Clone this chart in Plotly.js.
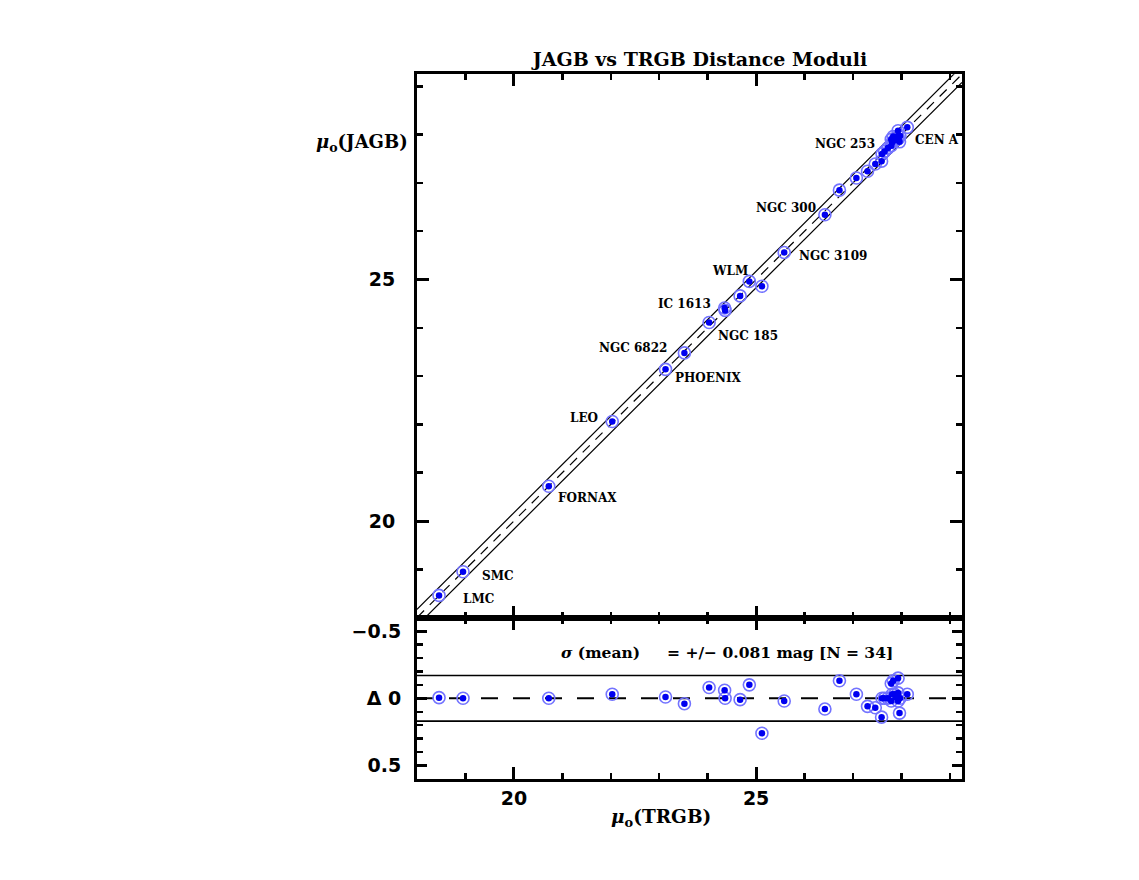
<!DOCTYPE html>
<html>
<head>
<meta charset="utf-8">
<script src="https://cdn.plot.ly/plotly-3.0.1.min.js"></script>
<style>html,body{margin:0;padding:0;background:#fff;}#chart{width:1139px;height:880px;}</style>
</head>
<body>
<div id="chart"></div>
<script>
// ---- data ----
const trgb = [18.455, 18.95, 20.72, 22.03, 23.13, 23.52, 24.03, 24.35, 24.36, 24.67,
              24.86, 25.12, 25.58, 26.42, 26.72, 27.07, 27.30, 27.46, 27.59, 27.60,
              27.65, 27.79, 27.83, 27.93, 27.81, 27.86, 27.93, 27.79, 27.93, 27.96,
              28.12, 27.72, 27.88, 27.97];
const jagb = [18.46, 18.95, 20.72, 22.06, 23.14, 23.48, 24.11, 24.41, 24.36, 24.66,
              24.96, 24.86, 25.56, 26.34, 26.85, 27.10, 27.24, 27.39, 27.45, 27.60,
              27.65, 27.90, 27.96, 28.08, 27.84, 27.89, 27.97, 27.77, 27.91, 27.85,
              28.15, 27.72, 27.89, 27.97];
const delta = trgb.map((t, i) => t - jagb[i]);

const labelNames = ['NGC 253', 'CEN A', 'NGC 300', 'NGC 3109', 'WLM', 'IC 1613', 'NGC 185',
                    'NGC 6822', 'PHOENIX', 'LEO', 'FORNAX', 'SMC', 'LMC'];
const labelX = [26.84, 28.73, 25.61, 26.58, 24.47, 23.52, 24.84, 22.46, 24.01, 21.45, 21.51, 19.67, 19.26];
const labelY = [27.81, 27.89, 26.48, 25.49, 25.18, 24.49, 23.83, 23.58, 22.96, 22.13, 20.48, 18.86, 18.39];

const axisRange = [18, 29.25];
const band = 0.17;
const sigmaText = '<i>σ</i> (mean)&nbsp;&nbsp;&nbsp;&nbsp; = +/− 0.081 mag [N = 34]';

// ---- traces ----
const lineX = axisRange;
const traces = [];
// top panel reference lines
traces.push({x: lineX, y: lineX.map(v => v + band), xaxis: 'x2', yaxis: 'y2', mode: 'lines',
  line: {color: '#000', width: 1.2}, hoverinfo: 'skip', showlegend: false});
traces.push({x: lineX, y: lineX.map(v => v - band), xaxis: 'x2', yaxis: 'y2', mode: 'lines',
  line: {color: '#000', width: 1.2}, hoverinfo: 'skip', showlegend: false});
traces.push({x: lineX, y: lineX, xaxis: 'x2', yaxis: 'y2', mode: 'lines',
  line: {color: '#000', width: 1.2, dash: '10px,8px'}, hoverinfo: 'skip', showlegend: false});
// bottom panel reference lines
traces.push({x: lineX, y: [band, band], xaxis: 'x', yaxis: 'y', mode: 'lines',
  line: {color: '#000', width: 1.6}, hoverinfo: 'skip', showlegend: false});
traces.push({x: lineX, y: [-band, -band], xaxis: 'x', yaxis: 'y', mode: 'lines',
  line: {color: '#000', width: 1.6}, hoverinfo: 'skip', showlegend: false});
traces.push({x: lineX, y: [0, 0], xaxis: 'x', yaxis: 'y', mode: 'lines',
  line: {color: '#000', width: 2, dash: '17px,15px'}, hoverinfo: 'skip', showlegend: false});
// points: ring + dot
function pts(xs, ys, xa, ya) {
  traces.push({x: xs, y: ys, xaxis: xa, yaxis: ya, mode: 'markers', showlegend: false,
    marker: {symbol: 'circle-open', size: 12, color: '#7373ff', line: {color: '#7373ff', width: 1.6}}});
  traces.push({x: xs, y: ys, xaxis: xa, yaxis: ya, mode: 'markers', showlegend: false,
    marker: {symbol: 'circle', size: 6.5, color: '#0000f0', line: {width: 0}}});
}
pts(trgb, jagb, 'x2', 'y2');
pts(trgb, delta, 'x', 'y');

// ---- layout ----
const W = 1139, H = 880;
const xDom = [417 / W, 962 / W];
const topDom = [1 - 617.6 / H, 1 - 74.2 / H];
const botDom = [1 - 779 / H, 1 - 617.6 / H];

const tickFont = {family: 'DejaVu Sans, sans-serif', size: 19, color: '#000', weight: 'bold'};
const serifBold = {family: 'DejaVu Serif, serif', color: '#000', weight: 'bold'};

function minorT(dt) {
  return {ticks: 'inside', ticklen: 6, tickwidth: 2.5, tickcolor: '#000', dtick: dt, tick0: 0, showgrid: false};
}
function axisBase(extra) {
  return Object.assign({
    showline: true, linewidth: 3, linecolor: '#000', mirror: 'allticks',
    ticks: 'inside', ticklen: 12, tickwidth: 3, tickcolor: '#000',
    showgrid: false, zeroline: false, automargin: false, tickfont: tickFont
  }, extra);
}

const annotations = labelNames.map((t, i) => ({
  x: labelX[i], y: labelY[i], xref: 'x2', yref: 'y2', text: t, showarrow: false,
  xanchor: 'center', yanchor: 'middle', font: Object.assign({size: 12}, serifBold)
}));
annotations.push({x: 24.39, y: -0.34, xref: 'x', yref: 'y', text: sigmaText, showarrow: false,
  xanchor: 'center', yanchor: 'middle', font: Object.assign({size: 15.5}, serifBold)});
annotations.push({x: 410 / W, y: 1 - 143 / H, xref: 'paper', yref: 'paper', showarrow: false,
  text: '<i>μ</i><sub>o</sub>(JAGB)', xanchor: 'right', yanchor: 'middle',
  font: Object.assign({size: 18}, serifBold)});
annotations.push({x: 661 / W, y: 1 - 818 / H, xref: 'paper', yref: 'paper', showarrow: false,
  text: '<i>μ</i><sub>o</sub>(TRGB)', xanchor: 'center', yanchor: 'middle',
  font: Object.assign({size: 18.5}, serifBold)});

const layout = {
  width: W, height: H, autosize: false,
  margin: {l: 0, r: 0, t: 0, b: 0, pad: 0},
  paper_bgcolor: '#fff', plot_bgcolor: '#fff',
  showlegend: false,
  title: {text: 'JAGB vs TRGB Distance Moduli', x: 700 / W, xanchor: 'center',
          y: 1 - 59 / H, yanchor: 'middle', xref: 'paper', yref: 'paper',
          font: Object.assign({size: 19}, serifBold)},
  xaxis: axisBase({domain: xDom, anchor: 'y', range: axisRange, tickmode: 'linear', tick0: 0, dtick: 5,
    minor: minorT(1), ticklabelstandoff: 0}),
  yaxis: axisBase({domain: botDom, anchor: 'x', range: [0.6, -0.6], tickmode: 'array',
    tickvals: [-0.5, 0, 0.5], ticktext: ['−0.5', 'Δ 0', '0.5'], ticklen: 10,
    minor: minorT(0.1), ticklabelstandoff: 9}),
  xaxis2: axisBase({domain: xDom, anchor: 'y2', range: axisRange, matches: 'x', showticklabels: false,
    tickmode: 'linear', tick0: 0, dtick: 5, minor: minorT(1)}),
  yaxis2: axisBase({domain: topDom, anchor: 'x2', range: axisRange, tickmode: 'linear', tick0: 0, dtick: 5,
    minor: minorT(1), ticklabelstandoff: 15}),
  annotations: annotations
};

Plotly.newPlot('chart', traces, layout, {displayModeBar: false, staticPlot: true});
</script>
</body>
</html>
